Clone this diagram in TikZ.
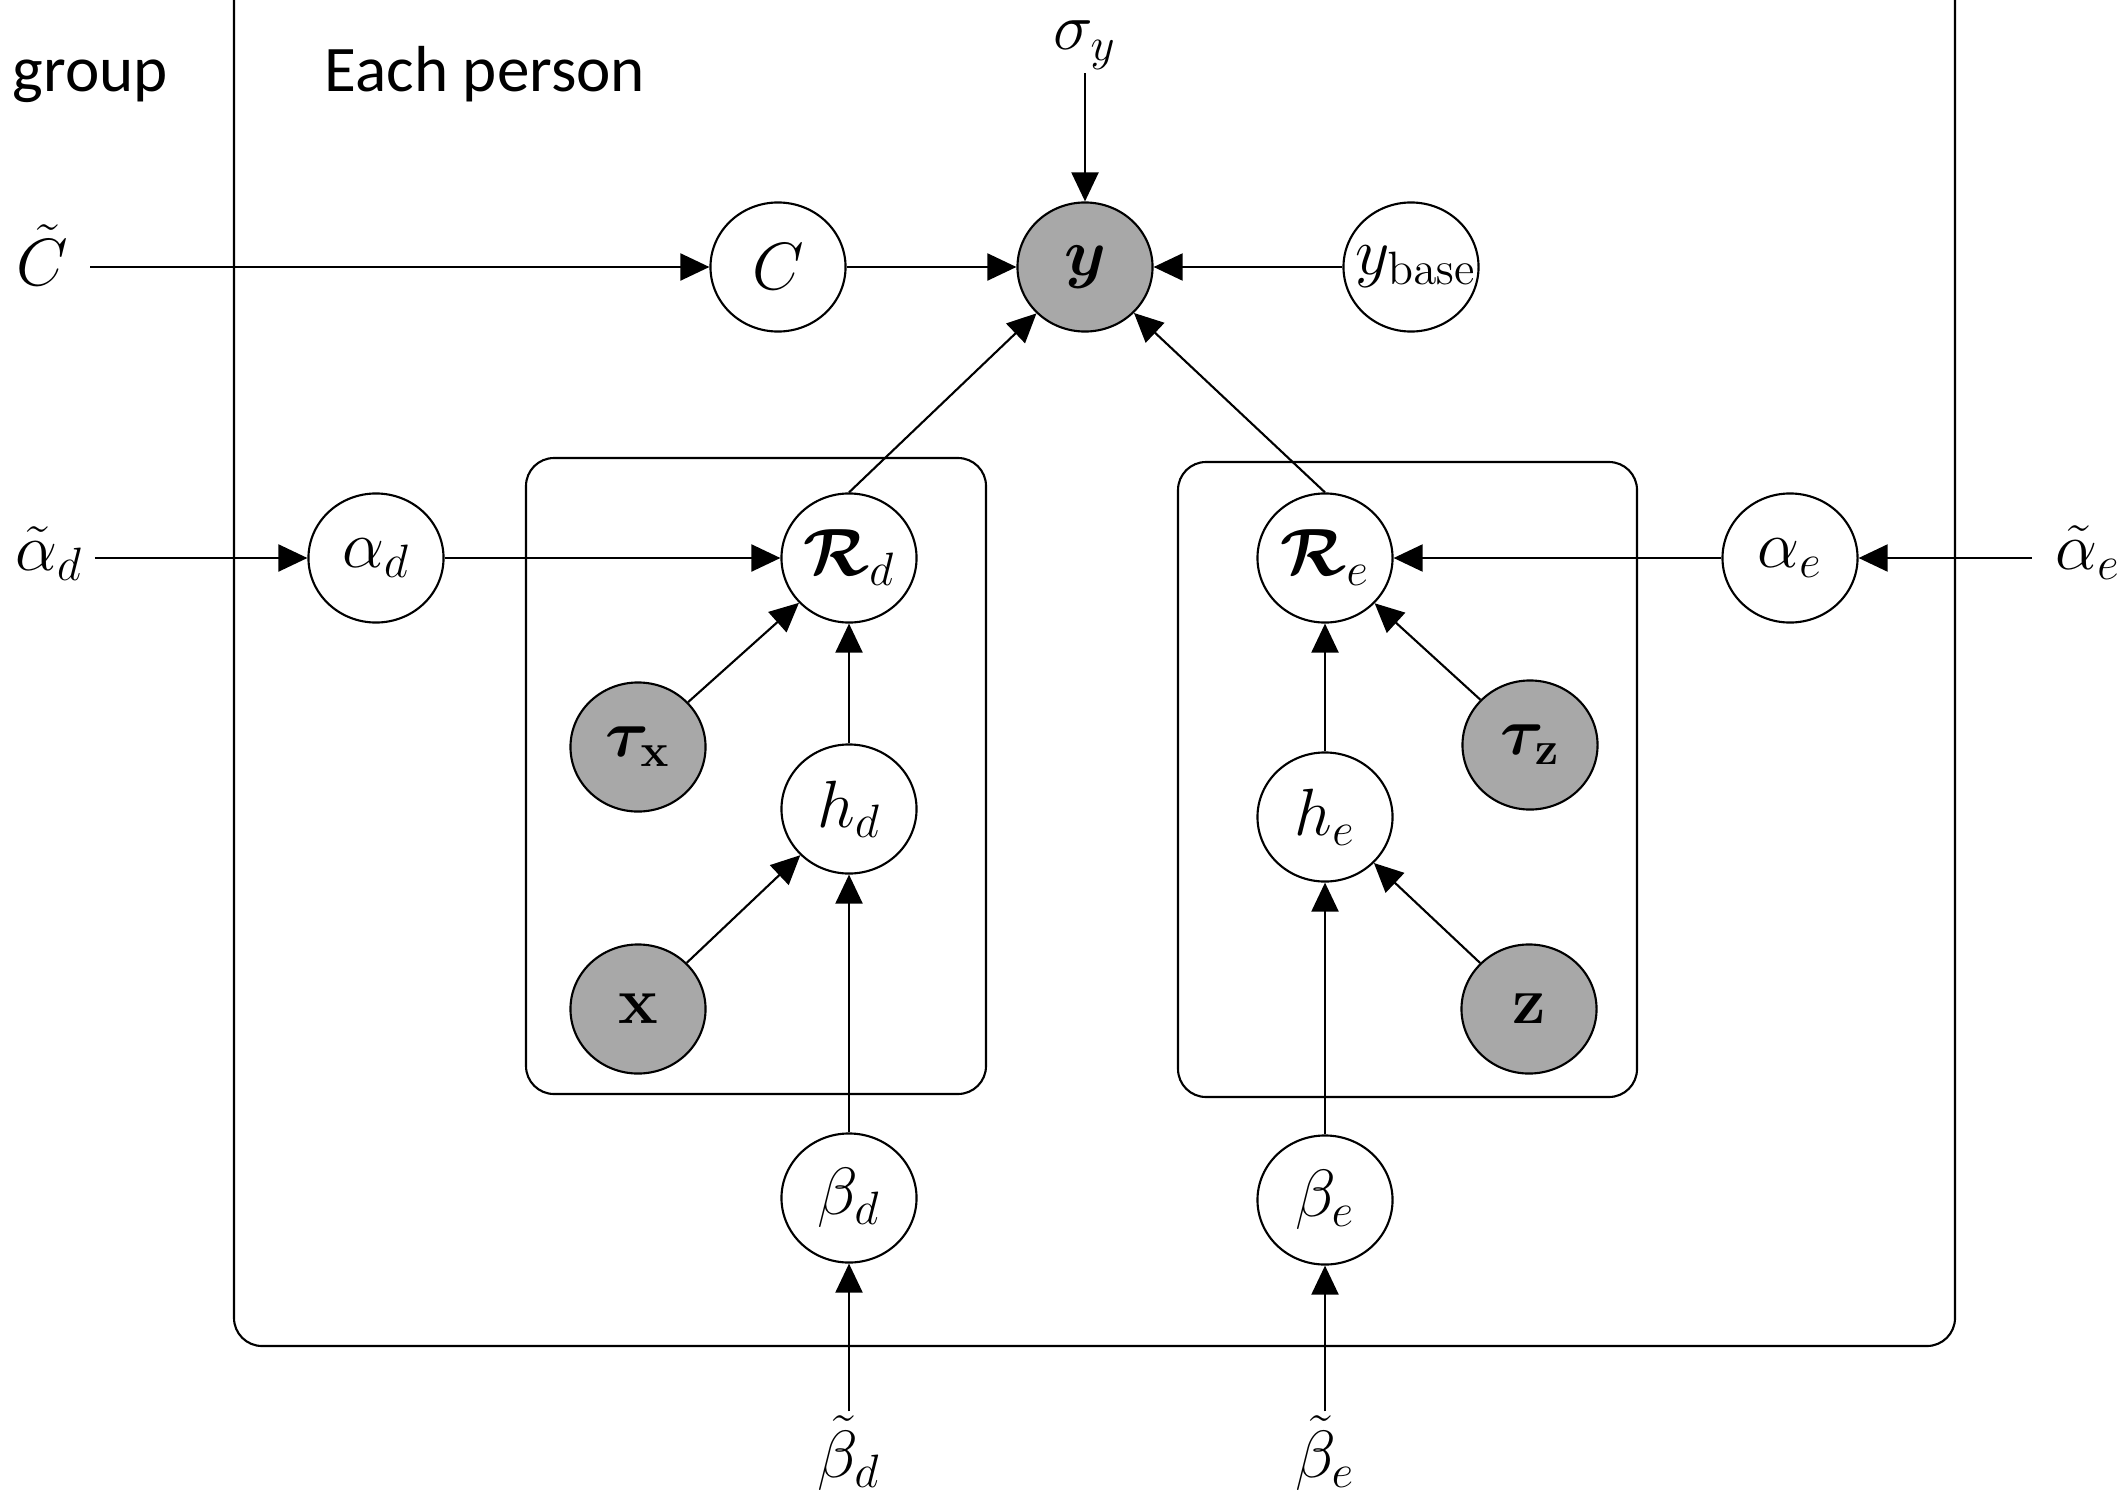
\RequirePackage{fix-cm}
\documentclass[tikz,border=0pt]{standalone}
\usepackage{amsmath}
\usepackage{bm}
\usepackage[no-math]{fontspec}
\setmainfont{Carlito}
\usetikzlibrary{arrows.meta,shapes.geometric}
\definecolor{obsgray}{RGB}{168,168,168}
\begin{document}
\begin{tikzpicture}[x=0.01cm,y=-0.01cm,
  var/.style={ellipse,draw,line width=0.6pt,minimum width=1.35cm,minimum height=1.29cm,inner sep=0pt,font=\fontsize{19}{23}\selectfont},
  obs/.style={var,fill=obsgray},
  lab/.style={inner sep=1pt,font=\fontsize{19}{23}\selectfont},
  arr/.style={line width=0.6pt,-{Triangle[length=0.29cm,width=0.27cm]}},
  plate/.style={draw,line width=0.6pt,rounded corners=0.28cm},
  txt/.style={font=\fontsize{18.5}{22}\selectfont,inner sep=0pt}]
\fill[white] (0,0) rectangle (2122,1497);
\useasboundingbox (0,0) rectangle (2122,1497);
\begin{scope}
  \clip (0,0) rectangle (2122,1497);
  \draw[plate] (234,-60) rectangle (1955,1346);
\end{scope}
\draw[plate] (526,458) rectangle (986,1094);
\draw[plate] (1178,462) rectangle (1637,1097);

\node[txt,anchor=base west] (grp) at (12,92) {group};
\node[txt,anchor=base west] (each) at (324,92) {Each person};

% top row
\node[lab,anchor=base] (sig) at (1085,50) {$\sigma_y$};
\node[obs] (y) at (1085,267) {$\bm{y}$};
\node[var] (C) at (778,267) {$C$};
\node[var] (yb) at (1411,267) {\makebox[0pt]{\hspace{0.1cm}$y_{\mathrm{base}}$}};
\node[lab,anchor=base] (Ct) at (42,285) {$\tilde{C}$};

% left plate
\node[lab,anchor=base] (Atd) at (49,570) {$\tilde{\alpha}_d$};
\node[var] (Ad) at (376,558) {$\alpha_d$};
\node[var] (Rd) at (849,558) {$\bm{\mathcal{R}}_d$};
\node[obs] (tx) at (638,747) {$\bm{\tau}_{\mathbf{x}}$};
\node[var] (hd) at (849,809) {$h_d$};
\node[obs] (x) at (638,1009) {$\mathbf{x}$};
\node[var] (Bd) at (849,1198) {$\beta_d$};
\node[lab,anchor=base] (Btd) at (849,1477) {$\tilde{\beta}_d$};

% right plate
\node[lab,anchor=base] (Ate) at (2088,569) {$\tilde{\alpha}_e$};
\node[var] (Ae) at (1790,558) {$\alpha_e$};
\node[var] (Re) at (1325,558) {$\bm{\mathcal{R}}_e$};
\node[obs] (tz) at (1530,745) {$\bm{\tau}_{\mathbf{z}}$};
\node[var] (he) at (1325,817) {$h_e$};
\node[obs] (z) at (1529,1009) {$\mathbf{z}$};
\node[var] (Be) at (1325,1200) {$\beta_e$};
\node[lab,anchor=base] (Bte) at (1325,1477) {$\tilde{\beta}_e$};

% edges
\draw[arr] (sig) -- (y);
\draw[arr,shorten <=0.18cm] (Ct.east |- C) -- (C);
\draw[arr] (C) -- (y);
\draw[arr] (yb) -- (y);
\draw[arr] (Rd.north) -- (y);
\draw[arr] (Re.north) -- (y);

\draw[arr,shorten <=0.08cm] (Atd.east |- Ad) -- (Ad);
\draw[arr] (Ad) -- (Rd);
\draw[arr] (tx) -- (Rd);
\draw[arr] (hd) -- (Rd);
\draw[arr] (x) -- (hd);
\draw[arr] (Bd) -- (hd);
\draw[arr] (Btd) -- (Bd);

\draw[arr,shorten <=0.2cm] (Ate.west |- Ae) -- (Ae);
\draw[arr] (Ae) -- (Re);
\draw[arr] (tz) -- (Re);
\draw[arr] (he) -- (Re);
\draw[arr] (z) -- (he);
\draw[arr] (Be) -- (he);
\draw[arr] (Bte) -- (Be);
\end{tikzpicture}
\end{document}
